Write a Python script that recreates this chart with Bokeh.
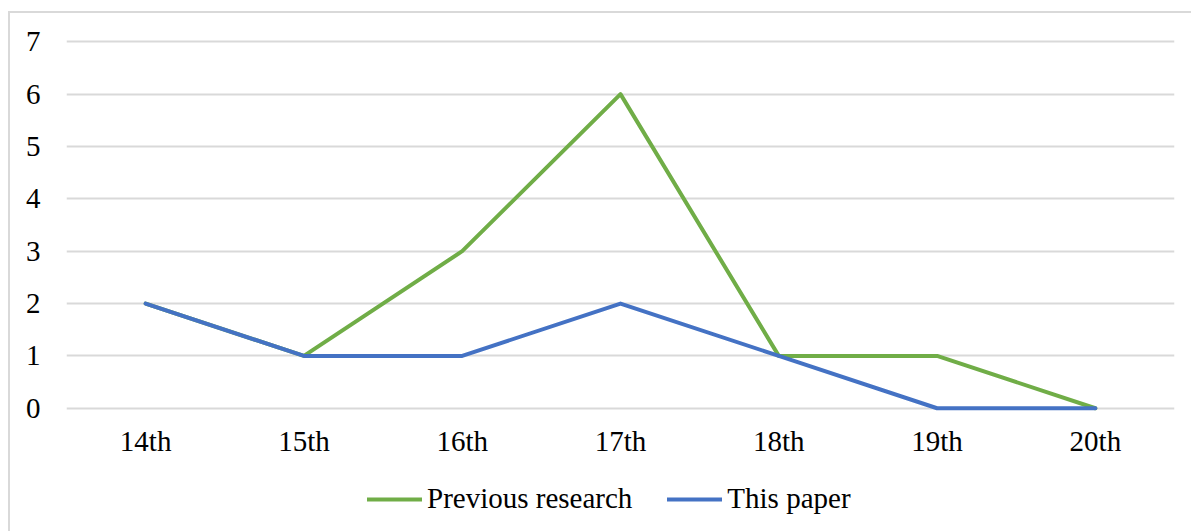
from bokeh.plotting import figure
from bokeh.layouts import column
from bokeh.models import FactorRange, Range1d, FixedTicker, Legend, LegendItem
from bokeh.embed import file_html
from bokeh.resources import INLINE

# Number of works per century
centuries = ["14th", "15th", "16th", "17th", "18th", "19th", "20th"]
previous_research = [2, 1, 3, 6, 1, 1, 0]
this_paper = [2, 1, 1, 2, 1, 0, 0]
y_ticks = [0, 1, 2, 3, 4, 5, 6, 7]
series_names = ["Previous research", "This paper"]

GREEN = "#70AD47"
BLUE = "#4472C4"
GRID = "#D9D9D9"
FONT = "Liberation Serif"
FONT_SIZE = "29px"
BORDER = "2px solid #D9D9D9"

p = figure(
    width=1183, height=460,
    x_range=FactorRange(*centuries, range_padding=0),
    y_range=Range1d(-0.1, 7.1),
    output_backend="svg", toolbar_location=None,
    min_border_left=56, min_border_right=19,
    min_border_top=23, min_border_bottom=60,
    margin=(11, 0, 0, 8),
    styles={"border-left": BORDER, "border-top": BORDER},
)
p.outline_line_color = None
p.background_fill_color = "white"
p.border_fill_color = "white"

p.xgrid.grid_line_color = None
p.ygrid.grid_line_color = GRID
p.ygrid.grid_line_width = 2
p.yaxis.ticker = FixedTicker(ticks=y_ticks)

for ax in (p.xaxis[0], p.yaxis[0]):
    ax.axis_line_color = None
    ax.major_tick_line_color = None
    ax.minor_tick_line_color = None
    ax.major_label_text_font = FONT
    ax.major_label_text_font_size = FONT_SIZE
    ax.major_label_text_color = "#000000"
    ax.major_tick_out = 0
    ax.major_tick_in = 0
p.yaxis.major_label_standoff = 26
p.xaxis.major_label_standoff = 11

line_style = dict(line_width=4, line_join="round", line_cap="round")
p.line(centuries, previous_research, line_color=GREEN, **line_style)
p.line(centuries, this_paper, line_color=BLUE, **line_style)

# strip under the chart that carries the legend; its y range lies above the
# data, so the series drawn here only supply the legend keys
lf = figure(
    width=1183, height=60,
    x_range=p.x_range, y_range=Range1d(100, 101),
    output_backend="svg", toolbar_location=None,
    min_border=0, margin=(0, 0, 0, 8),
    styles={"border-left": BORDER},
)
lf.axis.visible = False
lf.grid.visible = False
lf.outline_line_color = None
lf.border_fill_color = "white"
lf.background_fill_color = "white"

key_prev = lf.line(centuries, previous_research, line_color=GREEN, **line_style)
key_this = lf.line(centuries, this_paper, line_color=BLUE, **line_style)

legend = Legend(
    items=[LegendItem(label=series_names[0], renderers=[key_prev]),
           LegendItem(label=series_names[1], renderers=[key_this])],
    orientation="horizontal", location=(301, 16),
    label_text_font=FONT, label_text_font_size=FONT_SIZE,
    label_text_color="#000000",
    glyph_width=55, glyph_height=20, label_standoff=5, spacing=35,
    border_line_color=None, background_fill_alpha=0,
    padding=0, margin=0,
)
lf.add_layout(legend, "center")

layout = column(p, lf, spacing=0)
open("out.html", "w").write(file_html(layout, INLINE))
